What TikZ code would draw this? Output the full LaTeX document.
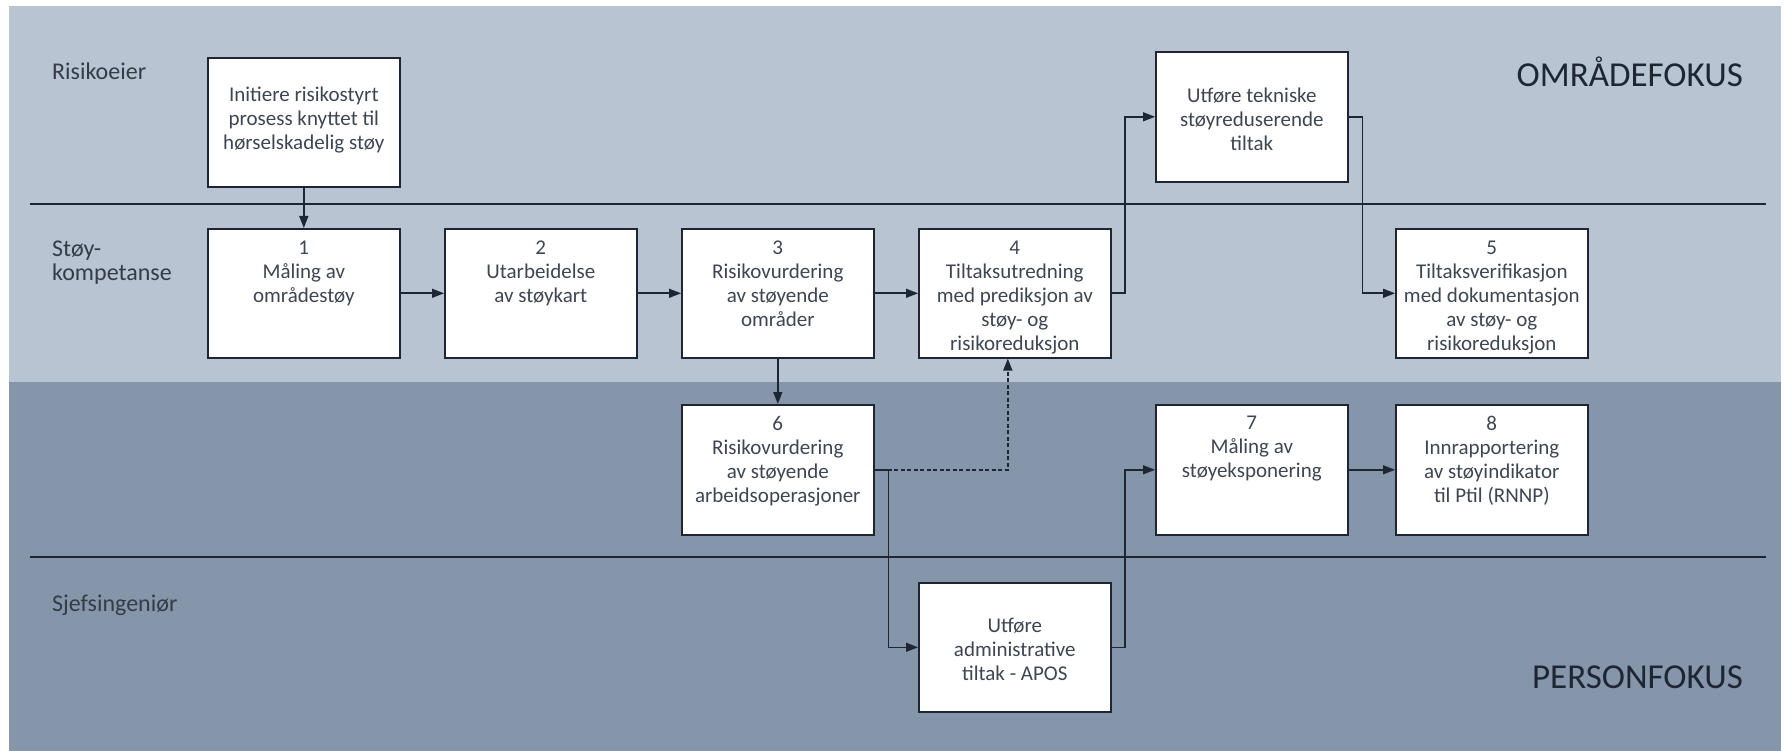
\documentclass[tikz,border=0pt]{standalone}
\usepackage{fontspec}
\setmainfont{Carlito}
\usetikzlibrary{arrows.meta}
\definecolor{lightbg}{RGB}{184,196,209}
\definecolor{darkbg}{RGB}{133,150,171}
\definecolor{linec}{RGB}{30,38,52}
\definecolor{txtc}{RGB}{52,60,72}
\definecolor{boxtxt}{RGB}{62,70,82}
\tikzset{
  stepbox/.style={draw=linec, line width=1.6pt, fill=white, minimum width=192pt, minimum height=129pt, inner sep=0pt, anchor=north west},
  boxtext/.style={font=\fontsize{21pt}{24pt}\selectfont, text=boxtxt, align=center, anchor=north, inner sep=0pt, execute at begin node={\rule{0pt}{16pt}}},
  lanelabel/.style={font=\fontsize{24pt}{23.5pt}\selectfont, text=txtc, align=left, anchor=base west, inner sep=0pt},
  focuslabel/.style={font=\fontsize{35pt}{40pt}\selectfont, text=linec, anchor=base east, inner sep=0pt},
  lanedivider/.style={draw=linec, line width=1.6pt},
  arr/.style={draw=linec, line width=1.6pt, -{Triangle[length=12pt,width=9pt]}},
  dasharr/.style={arr, dash pattern=on 4pt off 2.5pt}
}
\begin{document}
\begin{tikzpicture}[x=1pt,y=-1pt]
\useasboundingbox (0,0) rectangle (1785,751);
\fill[white] (0,0) rectangle (1785,751);
\fill[lightbg] (9,6) rectangle (1781,382);
\fill[darkbg] (9,382) rectangle (1781,751);

\draw[lanedivider] (30,204) -- (1766,204);
\draw[lanedivider] (30,557) -- (1766,557);

% lane labels
\node[lanelabel] (lRisiko) at (52,80) {Risikoeier};
\node[lanelabel, anchor=north west, execute at begin node={\rule{0pt}{17pt}}] (lStoy) at (52,241) {Støy-\\kompetanse};
\node[lanelabel] (lSjef) at (52,611) {Sjefsingeniør};
\node[focuslabel] (fOmr) at (1743,87) {OMRÅDEFOKUS};
\node[focuslabel] (fPers) at (1743,688) {PERSONFOKUS};

% boxes
\node[stepbox] (init) at (207,57) {};
\node[stepbox] (b1) at (207,228) {};
\node[stepbox] (b2) at (444,228) {};
\node[stepbox] (b3) at (681,228) {};
\node[stepbox] (b4) at (918,228) {};
\node[stepbox, minimum height=130pt] (tek) at (1155,51) {};
\node[stepbox] (b5) at (1395,228) {};
\node[stepbox, minimum height=130pt] (b6) at (681,404) {};
\node[stepbox, minimum height=130pt] (b7) at (1155,404) {};
\node[stepbox, minimum height=130pt] (b8) at (1395,404) {};
\node[stepbox] (apos) at (918,582) {};

% box texts
\node[boxtext] (tinit) at ([yshift=-30pt]init.north) {Initiere risikostyrt\\prosess knyttet til\\hørselskadelig støy};
\node[boxtext] (t1) at ([yshift=-13pt]b1.north) {1\\Måling av\\områdestøy};
\node[boxtext] (t2) at ([yshift=-13pt]b2.north) {2\\Utarbeidelse\\av støykart};
\node[boxtext] (t3) at ([yshift=-13pt]b3.north) {3\\Risikovurdering\\av støyende\\områder};
\node[boxtext] (t4) at ([yshift=-13pt]b4.north) {4\\Tiltaksutredning\\med prediksjon av\\støy- og\\risikoreduksjon};
\node[boxtext] (ttek) at ([yshift=-37pt]tek.north) {Utføre tekniske\\støyreduserende\\tiltak};
\node[boxtext] (t5) at ([yshift=-13pt]b5.north) {5\\Tiltaksverifikasjon\\med dokumentasjon\\av støy- og\\risikoreduksjon};
\node[boxtext] (t6) at ([yshift=-12pt]b6.north) {6\\Risikovurdering\\av støyende\\arbeidsoperasjoner};
\node[boxtext] (t7) at ([yshift=-12pt]b7.north) {7\\Måling av\\støyeksponering};
\node[boxtext] (t8) at ([yshift=-12pt]b8.north) {8\\Innrapportering\\av støyindikator\\til Ptil (RNNP)};
\node[boxtext] (tapos) at ([yshift=-36pt]apos.north) {Utføre\\administrative\\tiltak - APOS};

% connectors
\draw[arr] (init.south) -- (b1.north);
\draw[arr] (b1.east) -- (b2.west);
\draw[arr] (b2.east) -- (b3.west);
\draw[arr] (b3.east) -- (b4.west);
\draw[arr] (b4.east) -- ++(13.5,0) |- (tek.west);
\draw[arr] (tek.east) -- ++(14,0) |- (b5.west);
\draw[arr] (b3.south) -- (b6.north);
\draw[dasharr] (b6.east) -| ([xshift=-7pt]b4.south);
\draw[arr] (b6.east) -- ++(14,0) |- (apos.west);
\draw[arr] (apos.east) -- ++(13.5,0) |- (b7.west);
\draw[arr] (b7.east) -- (b8.west);
\end{tikzpicture}
\end{document}
